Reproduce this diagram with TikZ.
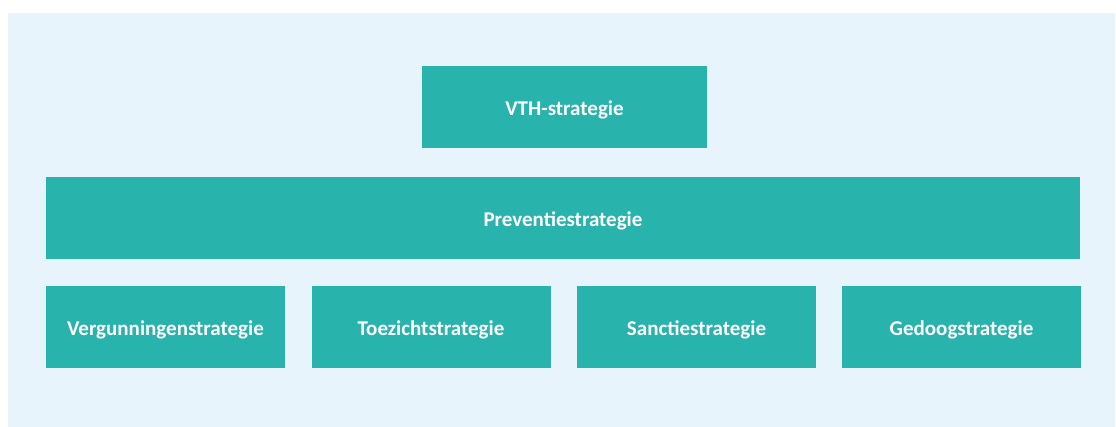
\documentclass[tikz,border=0pt]{standalone}
\usepackage{fontspec}
\setmainfont{Carlito}
\definecolor{vthteal}{RGB}{40,179,172}
\definecolor{vthback}{RGB}{232,244,252}
\tikzset{
    strategybox/.style={fill=vthteal, text=white, font=\bfseries\fontsize{21}{24}\selectfont,
        minimum height=82pt, inner sep=0pt, text height=18pt, text depth=0pt, anchor=center}
}
\begin{document}
\begin{tikzpicture}[x=1pt, y=-1pt]
        \useasboundingbox (0,0) rectangle (1116,427);
        \fill [vthback] (8,13) rectangle (1115,427);
        \node [strategybox, minimum width=285pt] (vth) at (564.5,107) {VTH-strategie};
        \node [strategybox, minimum width=1034pt] (preventie) at (563,218) {Preventiestrategie};
        \node [strategybox, minimum width=239pt] (vergunning) at (165.5,327) {Vergunningenstrategie};
        \node [strategybox, minimum width=239pt] (toezicht) at (431,327) {Toezichtstrategie};
        \node [strategybox, minimum width=239pt] (sanctie) at (696.5,327) {Sanctiestrategie};
        \node [strategybox, minimum width=239pt] (gedoog) at (961.5,327) {Gedoogstrategie};
    \end{tikzpicture}
\end{document}
